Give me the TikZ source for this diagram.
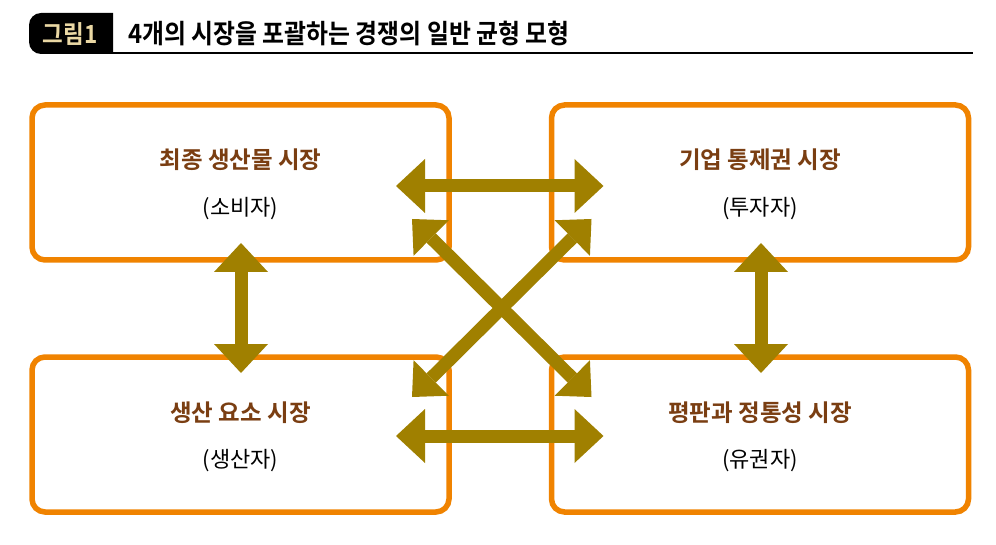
\documentclass[tikz,border=0pt]{standalone}
\usepackage{fontspec}
\setmainfont{Noto Sans CJK KR}[BoldFont={Noto Sans CJK KR Bold}]
\newfontfamily\titlefont{Noto Sans CJK KR Bold}[FakeStretch=0.9]
\usetikzlibrary{arrows.meta,calc}
\definecolor{boxorange}{HTML}{F08300}
\definecolor{arrowolive}{HTML}{A08000}
\definecolor{labelbrown}{HTML}{7A3E12}
\definecolor{tabcream}{HTML}{EAD8A4}
\begin{document}
\begin{tikzpicture}[x=1pt,y=-1pt,
  market/.style={draw=boxorange, line width=5.5pt, rounded corners=13pt,
    minimum width=417pt, minimum height=155pt, inner sep=0pt, outer sep=0pt},
  mtitle/.style={anchor=base, text=labelbrown, inner sep=0pt,
    font=\fontsize{23.5}{28}\selectfont\bfseries},
  mrole/.style={anchor=base, text=black, inner sep=0pt,
    font=\fontsize{22}{26}\selectfont},
  biarrow/.style={draw=arrowolive, line width=13pt,
    {Triangle[length=29pt,width=54pt,line width=0pt]}-{Triangle[length=29pt,width=54pt,line width=0pt]}},
  diarrow/.style={draw=arrowolive, line width=13pt,
    {Triangle[length=27pt,width=50pt,line width=0pt]}-{Triangle[length=27pt,width=50pt,line width=0pt]}},
]
\useasboundingbox[fill=white] (0,0) rectangle (996,545);

% heading tab and rule
\fill[black] (113,13) -- (113,54) -- (71,54) [rounded corners=12pt] -- (29,54) -- (29,13) -- (71,13) [sharp corners] -- cycle;
\draw[line width=2.5pt] (113,53) -- (973,53);
\node[anchor=base, text=tabcream, inner sep=0pt, font=\titlefont\fontsize{25}{29}\selectfont] (tab) at (70,43.5) {그림1};
\node[anchor=base west, inner sep=0pt, font=\titlefont\fontsize{26.5}{30}\selectfont] (title) at (128,43.5) {4개의 시장을 포괄하는 경쟁의 일반 균형 모형};

% market boxes
\node[market] (final) at (240.5,182.5) {};
\node[market] (control) at (760,182.5) {};
\node[market] (factor) at (240.5,434.5) {};
\node[market] (reput) at (760,434.5) {};

\node[mtitle] (finalT) at ($(final.center)+(0,-13.5)$) {최종 생산물 시장};
\node[mrole] (finalR) at ($(final.center)+(0,32.6)$) {(소비자)};
\node[mtitle] (controlT) at ($(control.center)+(0,-13.5)$) {기업 통제권 시장};
\node[mrole] (controlR) at ($(control.center)+(0,32.6)$) {(투자자)};
\node[mtitle] (factorT) at ($(factor.center)+(0,-13.5)$) {생산 요소 시장};
\node[mrole] (factorR) at ($(factor.center)+(0,32.6)$) {(생산자)};
\node[mtitle] (reputT) at ($(reput.center)+(0,-13.5)$) {평판과 정통성 시장};
\node[mrole] (reputR) at ($(reput.center)+(0,32.6)$) {(유권자)};

% arrow end points
\coordinate (htopL) at ($(final.east)+(-53,3.5)$);
\coordinate (htopR) at ($(control.west)+(52,3.5)$);
\coordinate (hbotL) at ($(factor.east)+(-53,1.5)$);
\coordinate (hbotR) at ($(reput.west)+(52,1.5)$);
\coordinate (vleftT) at ($(final.south)+(0.5,-17)$);
\coordinate (vleftB) at ($(factor.north)+(0.5,16)$);
\coordinate (vrightT) at ($(control.south)+(1,-17)$);
\coordinate (vrightB) at ($(reput.north)+(1,16)$);
\coordinate (d1a) at ($(final.south east)+(-37,-41)$);
\coordinate (d1b) at ($(reput.north west)+(40,40)$);
\coordinate (d2a) at ($(control.south west)+(40,-41)$);
\coordinate (d2b) at ($(factor.north east)+(-37,40)$);

% connectors
\draw[biarrow] (htopL) -- (htopR);
\draw[biarrow] (hbotL) -- (hbotR);
\draw[biarrow] (vleftT) -- (vleftB);
\draw[biarrow] (vrightT) -- (vrightB);
\draw[diarrow] (d1a) -- (d1b);
\draw[diarrow] (d2a) -- (d2b);
\end{tikzpicture}
\end{document}
